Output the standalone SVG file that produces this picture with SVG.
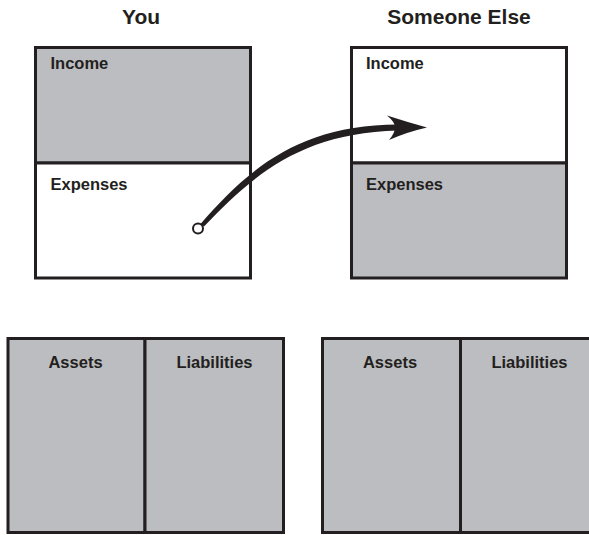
<svg xmlns="http://www.w3.org/2000/svg" width="589" height="535" viewBox="0 0 589 535">
<style>
.box{stroke:#231f20;stroke-width:3;}
.g{fill:#bcbdc0;}
.w{fill:#ffffff;}
.t{font-family:"Liberation Sans",Arial,sans-serif;font-weight:bold;fill:#231f20;}
.title{font-size:21px;text-anchor:middle;}
.lbl{font-size:16.5px;}
.c{text-anchor:middle;}
</style>
<rect width="589" height="535" fill="#ffffff"/>
<g id="title-you"><text class="t title" x="141" y="24">You</text></g>
<g id="title-someone"><text class="t title" x="459" y="24">Someone Else</text></g>

<g id="you-income">
<rect class="box g" x="35.5" y="47.5" width="215" height="115.5"/>
<text class="t lbl" x="50.5" y="68.5">Income</text>
</g>
<g id="you-expenses">
<rect class="box w" x="35.5" y="163" width="215" height="115"/>
<text class="t lbl" x="50.5" y="189.5">Expenses</text>
</g>

<g id="else-income">
<rect class="box w" x="351.5" y="47.5" width="215" height="115.5"/>
<text class="t lbl" x="366" y="68.5">Income</text>
</g>
<g id="else-expenses">
<rect class="box g" x="351.5" y="163" width="215" height="115"/>
<text class="t lbl" x="366" y="189.5">Expenses</text>
</g>

<g id="you-assets">
<rect class="box g" x="8" y="338.5" width="137" height="194"/>
<text class="t lbl c" x="75.5" y="368">Assets</text>
</g>
<g id="you-liabilities">
<rect class="box g" x="145" y="338.5" width="138.5" height="194"/>
<text class="t lbl c" x="214.5" y="368">Liabilities</text>
</g>

<g id="else-assets">
<rect class="box g" x="322.5" y="338.5" width="138" height="194"/>
<text class="t lbl c" x="390" y="368">Assets</text>
</g>
<g id="else-liabilities">
<rect class="box g" x="460.5" y="338.5" width="135" height="194"/>
<text class="t lbl c" x="529.5" y="368">Liabilities</text>
</g>

<g id="connectors">
<path d="M200.5,224 C249,168 300,125 398,124.5 L398,130.5 C302,133 254,174 204,226.5 Z" fill="#231f20"/>
<path d="M427,127.5 Q407,122 387,115.5 Q395,122 395,127.5 Q395,133 389,140 Q407,132 427,127.5 Z" fill="#231f20"/>
<circle cx="198" cy="228.5" r="5" fill="#ffffff" stroke="#231f20" stroke-width="2"/>
</g>
</svg>
